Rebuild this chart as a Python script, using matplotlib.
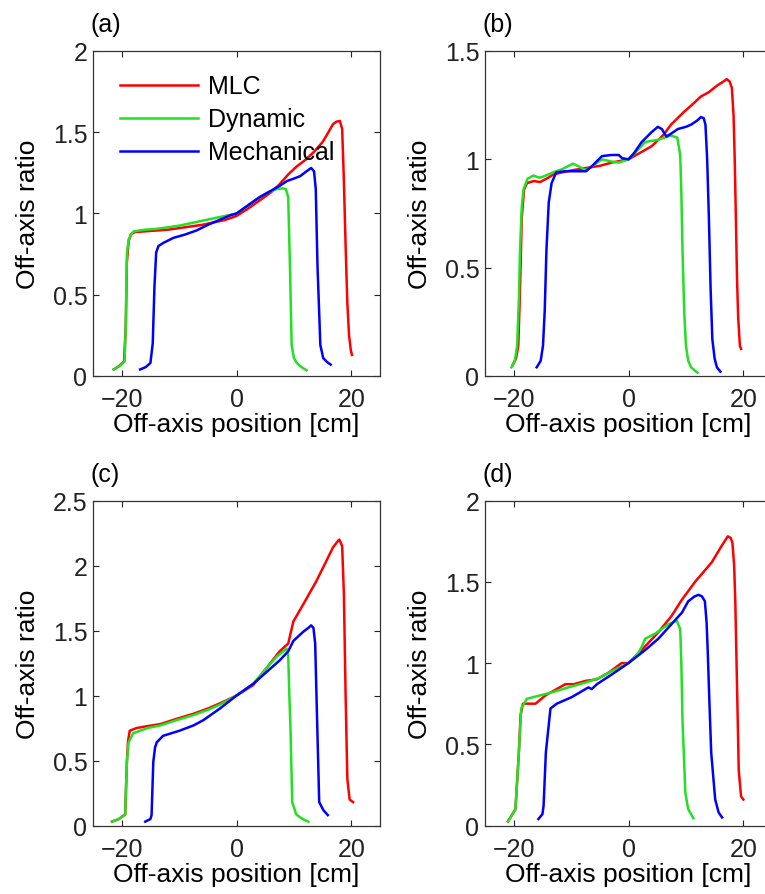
# Off-axis ratio profiles for the four fields, (a)-(d)

import matplotlib.pyplot as plt
from matplotlib.ticker import FormatStrFormatter

plt.rcParams["font.family"] = ["Liberation Sans", "DejaVu Sans"]

# panel (a)
a_mlc_x = [-21.4, -20.5, -19.6, -19.3, -19.1, -18.8, -18.4, -17.8, -16, -14, -12, -10, -8, -6, -4, -2, 0, 2, 4, 6,
           7.5, 9, 10.5, 12, 13.5, 15, 16, 16.8, 17.4, 18.0, 18.4, 18.7, 19.0, 19.3, 19.6, 19.9, 20.1]
a_mlc_y = [0.04, 0.06, 0.09, 0.3, 0.7, 0.83, 0.87, 0.885, 0.89, 0.895, 0.9, 0.91, 0.92, 0.93, 0.945, 0.96, 0.985,
           1.03, 1.08, 1.13, 1.18, 1.24, 1.29, 1.33, 1.38, 1.44, 1.5, 1.55, 1.565, 1.57, 1.52, 1.2, 0.8, 0.45, 0.25,
           0.16, 0.13]
a_dyn_x = [-21.4, -20.4, -19.5, -19.3, -19.1, -18.8, -18.3, -17.9, -16, -14, -12, -10, -8, -6, -4, -2, 0, 2, 4,
           5.5, 7, 8, 8.6, 9.0, 9.3, 9.6, 10.0, 10.5, 11.3, 12.2]
a_dyn_y = [0.04, 0.06, 0.09, 0.3, 0.75, 0.84, 0.875, 0.89, 0.9, 0.905, 0.915, 0.925, 0.94, 0.955, 0.97, 0.985, 1.0,
           1.05, 1.1, 1.13, 1.15, 1.155, 1.15, 1.1, 0.68, 0.19, 0.11, 0.08, 0.055, 0.035]
a_mech_x = [-16.8, -15.8, -15.0, -14.6, -14.3, -14.0, -13.6, -12.7, -11, -9, -7, -5, -3, -1, 0, 2, 4, 6, 7.5, 8.8,
            10, 11.1, 12.2, 13.0, 13.5, 13.8, 14.1, 14.6, 15.1, 15.8, 16.4]
a_mech_y = [0.04, 0.055, 0.08, 0.2, 0.55, 0.76, 0.8, 0.82, 0.85, 0.87, 0.895, 0.93, 0.96, 0.99, 1.0, 1.05, 1.1,
            1.14, 1.17, 1.2, 1.215, 1.23, 1.26, 1.28, 1.26, 1.15, 0.68, 0.19, 0.11, 0.085, 0.07]

# panel (b)
b_mlc_x = [-20.2, -19.6, -19.2, -18.9, -18.6, -18.2, -17.7, -16.5, -15.4, -14, -13.1, -11.5, -9.7, -7.4, -5, -2.9,
           -1, 0, 2, 4, 6, 7.4, 9.7, 11, 12.6, 14, 15.4, 16.3, 17.1, 17.6, 18.0, 18.3, 18.5, 18.7, 18.9, 19.1, 19.4,
           19.6]
b_mlc_y = [0.05, 0.08, 0.14, 0.4, 0.73, 0.86, 0.89, 0.9, 0.895, 0.915, 0.93, 0.94, 0.95, 0.96, 0.97, 0.985, 0.995,
           1.0, 1.03, 1.06, 1.11, 1.16, 1.22, 1.25, 1.29, 1.31, 1.34, 1.355, 1.37, 1.36, 1.33, 1.2, 1.0, 0.73, 0.45,
           0.27, 0.14, 0.125]
b_dyn_x = [-20.4, -19.8, -19.4, -19.1, -18.9, -18.6, -18.3, -17.6, -16.6, -15.5, -14.9, -13.1, -11.5, -9.7, -8.5,
           -7.4, -6, -4.6, -3, -1.7, 0, 1.5, 2.9, 5.1, 7.4, 8.5, 9.0, 9.2, 9.4, 9.7, 10.0, 10.4, 10.9, 12.0]
b_dyn_y = [0.04, 0.07, 0.14, 0.35, 0.58, 0.78, 0.86, 0.91, 0.925, 0.915, 0.92, 0.94, 0.955, 0.98, 0.965, 0.95,
           0.975, 1.0, 0.99, 0.985, 1.0, 1.04, 1.08, 1.09, 1.11, 1.1, 1.02, 0.85, 0.58, 0.3, 0.14, 0.07, 0.04, 0.015]
b_mech_x = [-16.0, -15.3, -14.9, -14.6, -14.3, -13.9, -13.4, -12.6, -11, -9, -7.4, -6.3, -5.2, -4.6, -3, -1.7, -1.1,
            0, 1, 2.3, 4, 5.1, 5.8, 6.6, 7.5, 8.6, 10, 10.9, 12.0, 12.6, 13.1, 13.4, 13.7, 14.0, 14.3, 14.6, 15.0,
            15.4, 16.0]
b_mech_y = [0.04, 0.07, 0.14, 0.3, 0.58, 0.8, 0.89, 0.94, 0.945, 0.945, 0.945, 0.97, 1.0, 1.015, 1.02, 1.02, 1.005,
            1.0, 1.03, 1.08, 1.125, 1.15, 1.14, 1.105, 1.12, 1.14, 1.15, 1.16, 1.18, 1.195, 1.19, 1.16, 1.0, 0.73,
            0.4, 0.17, 0.08, 0.04, 0.02]

# panel (c)
c_mlc_x = [-21.7, -20.5, -19.4, -19.1, -18.9, -18.6, -17.4, -15.5, -13.3, -10.5, -7.5, -5, -2.9, 0, 2.9, 5.2, 7.5,
           9.0, 9.9, 11.6, 13.9, 15.7, 16.8, 17.5, 17.9, 18.4, 18.7, 19.0, 19.3, 19.7, 20.3]
c_mlc_y = [0.03, 0.05, 0.085, 0.49, 0.65, 0.73, 0.75, 0.765, 0.78, 0.82, 0.86, 0.9, 0.94, 1.0, 1.08, 1.21, 1.34,
           1.4, 1.57, 1.7, 1.88, 2.04, 2.14, 2.18, 2.2, 2.15, 1.78, 1.0, 0.36, 0.2, 0.18]
c_dyn_x = [-21.7, -20.5, -19.4, -19.1, -18.8, -18.0, -15.5, -13.3, -10.5, -7.5, -5, -2.9, 0, 2.9, 5.2, 7.0, 8.7,
           9.0, 9.2, 9.4, 9.7, 10.4, 11.5, 12.5]
c_dyn_y = [0.03, 0.05, 0.085, 0.49, 0.64, 0.71, 0.75, 0.77, 0.81, 0.85, 0.89, 0.93, 1.0, 1.09, 1.21, 1.3, 1.36,
           1.31, 1.0, 0.74, 0.18, 0.085, 0.05, 0.03]
c_mech_x = [-15.9, -15.0, -14.8, -14.5, -14.2, -13.9, -12.8, -9.9, -7.5, -5.8, -2.9, 0, 2.9, 5.2, 7.5, 9.0, 9.9,
            11.6, 12.5, 13.0, 13.4, 13.7, 14.0, 14.4, 15.1, 15.9]
c_mech_y = [0.03, 0.05, 0.08, 0.49, 0.6, 0.64, 0.69, 0.73, 0.77, 0.81, 0.9, 1.0, 1.09, 1.18, 1.27, 1.34, 1.42, 1.49,
            1.52, 1.54, 1.52, 1.4, 0.87, 0.18, 0.12, 0.08]

# panel (d)
d_mlc_x = [-21.0, -19.7, -19.1, -18.8, -18.4, -17.5, -16.2, -14.5, -12.5, -11, -9.5, -7.5, -5.5, -3.5, -1.2, 0,
           2.3, 5.2, 7.5, 9.3, 11.6, 14.5, 16.2, 17.3, 17.8, 18.1, 18.4, 18.6, 18.9, 19.2, 19.6, 20.0]
d_mlc_y = [0.025, 0.1, 0.45, 0.68, 0.75, 0.75, 0.75, 0.8, 0.84, 0.87, 0.87, 0.89, 0.9, 0.94, 1.0, 1.0, 1.08, 1.19,
           1.29, 1.39, 1.5, 1.62, 1.72, 1.78, 1.77, 1.74, 1.6, 1.38, 0.86, 0.34, 0.18, 0.16]
d_dyn_x = [-21.0, -19.7, -19.1, -18.7, -17.7, -15.5, -13.3, -10.5, -7.5, -5, -2.9, 0, 1.5, 2.3, 2.9, 4.6, 7.0, 8.4,
           9.0, 9.2, 9.4, 9.9, 10.4, 11.3]
d_dyn_y = [0.025, 0.1, 0.45, 0.72, 0.78, 0.8, 0.82, 0.85, 0.88, 0.91, 0.95, 1.0, 1.05, 1.1, 1.15, 1.18, 1.24, 1.26,
           1.21, 1.0, 0.65, 0.2, 0.1, 0.045]
d_mech_x = [-15.7, -15.0, -14.8, -14.4, -13.6, -12.5, -9.9, -7.0, -6.4, -5.5, -2.9, 0, 2.9, 5.2, 7.5, 9.3, 10.4,
            11.5, 12.2, 12.8, 13.3, 13.6, 13.8, 14.1, 14.4, 15.1, 15.7, 16.3]
d_mech_y = [0.04, 0.07, 0.12, 0.45, 0.72, 0.75, 0.79, 0.85, 0.84, 0.87, 0.93, 1.0, 1.08, 1.15, 1.24, 1.31, 1.38,
            1.41, 1.42, 1.41, 1.38, 1.25, 1.07, 0.75, 0.45, 0.16, 0.08, 0.05]

panel_labels = ["(a)", "(b)", "(c)", "(d)"]
y_max = [2, 1.5, 2.5, 2]
series_names = ["MLC", "Dynamic", "Mechanical"]
series_colors = ["#ff0000", "#22e022", "#0000ff"]

panels = [
    [(a_mlc_x, a_mlc_y), (a_dyn_x, a_dyn_y), (a_mech_x, a_mech_y)],
    [(b_mlc_x, b_mlc_y), (b_dyn_x, b_dyn_y), (b_mech_x, b_mech_y)],
    [(c_mlc_x, c_mlc_y), (c_dyn_x, c_dyn_y), (c_mech_x, c_mech_y)],
    [(d_mlc_x, d_mlc_y), (d_dyn_x, d_dyn_y), (d_mech_x, d_mech_y)],
]

# axes boxes in figure fractions (right column runs off the page like the original)
boxes = [
    [0.1216, 0.5788, 0.3752, 0.3631],
    [0.634, 0.5788, 0.3752, 0.3631],
    [0.1216, 0.0765, 0.3752, 0.3631],
    [0.634, 0.0765, 0.3752, 0.3631],
]

fig = plt.figure(figsize=(7.65, 8.95), dpi=100)

for i in range(4):
    ax = fig.add_axes(boxes[i])
    for (x, y), name, color in zip(panels[i], series_names, series_colors):
        ax.plot(x, y, color=color, lw=1.8, label=name)
    ax.set_xlim(-25, 25)
    ax.set_ylim(0, y_max[i])
    ax.set_xticks([-20, 0, 20])
    ax.set_yticks([k * 0.5 for k in range(int(y_max[i] * 2) + 1)])
    ax.yaxis.set_major_formatter(FormatStrFormatter("%g"))
    ax.tick_params(direction="in", length=4, width=0.8, top=True, right=True, labelsize=18, colors="#222222")
    ax.tick_params(axis="x", pad=8)
    ax.tick_params(axis="y", pad=4)
    for sp in ax.spines.values():
        sp.set_color("#333333")
        sp.set_linewidth(0.9)
    ax.set_xlabel("Off-axis position [cm]", fontsize=19, labelpad=1)
    ax.set_ylabel("Off-axis ratio", fontsize=19)
    ax.yaxis.set_label_coords(-0.185, 0.5)
    ax.text(-0.01, 1.083, panel_labels[i], transform=ax.transAxes, fontsize=18, va="center", ha="left")
    if i == 0:
        ax.legend(loc="upper left", bbox_to_anchor=(0.094, 0.928), frameon=False, fontsize=18,
                  handlelength=3.1, handletextpad=0.4, labelspacing=0.36, borderpad=0, borderaxespad=0)

fig.savefig("out.png", dpi=100)
